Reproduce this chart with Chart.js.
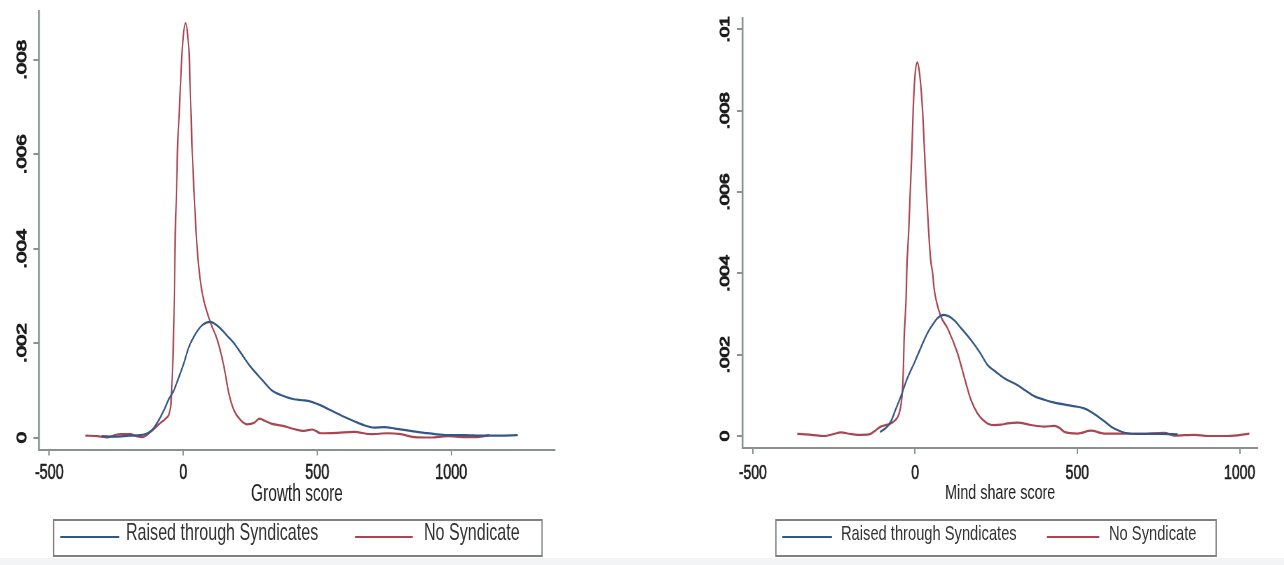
<!DOCTYPE html>
<html>
<head>
<meta charset="utf-8">
<script src="https://cdn.jsdelivr.net/npm/chart.js@4.4.0/dist/chart.umd.min.js"></script>
<style>
  body { margin: 0; background: #fff; width: 1284px; height: 565px; overflow: hidden; position: relative; font-family: 'Liberation Sans', Arial, sans-serif; }
  .panel { position: absolute; top: 0; height: 565px; transform-origin: 0 0; }
  .plot { position: absolute; left: 0; top: 0; height: 515px; }
  .legend-box { position: absolute; box-sizing: border-box; border: 2px solid #7f8080; }
  .key { position: absolute; height: 0; border-top: 2px solid; }
  .lab { position: absolute; line-height: 1; white-space: nowrap; color: #333; }
  #band { position: absolute; left: 0; right: 0; top: 558px; bottom: 0; background: #f3f4f5; }
</style>
</head>
<body>
<div id="band"></div>
<div class="panel" id="leftPanel"><div class="plot"><canvas id="growthChart"></canvas></div></div>
<div class="panel" id="rightPanel"><div class="plot"><canvas id="mindChart"></canvas></div></div>
<script>
// series names and tick values
const seriesNames = ['Raised through Syndicates', 'No Syndicate'];
const growthTicksX = [-500, 0, 500, 1000];
const growthTicksY = [0, 0.002, 0.004, 0.006, 0.008];
const mindTicksX = [-500, 0, 500, 1000];
const mindTicksY = [0, 0.002, 0.004, 0.006, 0.008, 0.01];

// Growth score - raised through syndicates
const growthSyndX = [-305, -250, -200, -160, -130, -110, -90, -72, -55, -35, -15, 2, 20, 40, 71, 102, 120, 139, 165, 189, 220, 251, 301, 330, 364, 413, 445, 476, 525, 560, 600, 640, 675, 712, 750, 790, 824, 860, 899, 940, 986, 1050, 1111, 1180, 1248];
const growthSyndY = [0.00003, 0.00002, 0.00004, 0.00005, 0.0001, 0.0002, 0.00038, 0.00058, 0.0008, 0.001, 0.0013, 0.00157, 0.0019, 0.00214, 0.00238, 0.00245, 0.0024, 0.00231, 0.00215, 0.002, 0.00175, 0.0015, 0.00118, 0.001, 0.0009, 0.00081, 0.00079, 0.00076, 0.00065, 0.00055, 0.00044, 0.00034, 0.00026, 0.00021, 0.00022, 0.00019, 0.00016, 0.00013, 0.0001, 0.00007, 0.00005, 0.00005, 0.00004, 0.00004, 0.00005];

// Growth score - no syndicate
const growthNoneX = [-365, -320, -284, -255, -234, -197, -175, -153, -122, -85, -66, -47, -45, -38, -33, -31, -26, -22, -14, -6, 0, 9, 17, 23, 28, 34, 42, 52, 62, 73, 102, 127, 152, 170, 189, 214, 239, 264, 285, 295, 326, 376, 413, 451, 482, 513, 575, 638, 700, 762, 812, 862, 924, 987, 1049, 1099, 1142];
const growthNoneY = [0.00004, 0.00003, 0.0, 0.00005, 0.00007, 0.00007, 0.00003, 0.00001, 0.00012, 0.00031, 0.0004, 0.00065, 0.0008, 0.0018, 0.003, 0.004, 0.005, 0.006, 0.007, 0.008, 0.0085, 0.00878, 0.0085, 0.008, 0.007, 0.006, 0.005, 0.004, 0.0034, 0.003, 0.00243, 0.00207, 0.0015, 0.00094, 0.00058, 0.00037, 0.00028, 0.00031, 0.0004, 0.00038, 0.0003, 0.00024, 0.00018, 0.00014, 0.00017, 0.00009, 0.0001, 0.00012, 0.00007, 0.00009, 0.00007, 0.00001, 0.0, 0.00003, 0.00001, 0.00001, 0.00005];

// Mind share score - raised through syndicates
const mindSyndX = [-108, -90, -75, -60, -44, -25, -3, 18, 38, 55, 69, 89, 105, 120, 145, 172, 200, 223, 250, 275, 316, 340, 367, 395, 419, 470, 500, 521, 545, 563, 585, 604, 625, 645, 696, 758, 809];
const mindSyndY = [0.0001, 0.0002, 0.00035, 0.00065, 0.00097, 0.0014, 0.00179, 0.00218, 0.00253, 0.00275, 0.0029, 0.00298, 0.00294, 0.00285, 0.00262, 0.00236, 0.00205, 0.00175, 0.00157, 0.00142, 0.00125, 0.00112, 0.00098, 0.0009, 0.00084, 0.00076, 0.00072, 0.00068, 0.00058, 0.00048, 0.00035, 0.00023, 0.00014, 0.00008, 0.00005, 0.00005, 0.00004];

// Mind share score - no syndicate
const mindNoneX = [-363, -320, -281, -250, -229, -200, -178, -142, -120, -106, -85, -70, -55, -49, -43, -39, -36, -34, -30, -27, -26, -20, -15, -10, -6, -1, 7, 14, 23, 29, 35, 42, 48, 54, 59, 79, 100, 131, 151, 172, 192, 223, 244, 265, 285, 316, 357, 398, 429, 445, 460, 501, 542, 583, 645, 696, 768, 799, 861, 902, 964, 1030];
const mindNoneY = [0.00005, 0.00003, 0.0, 0.00005, 0.00009, 0.00005, 0.00003, 0.00004, 0.00015, 0.00023, 0.00028, 0.00033, 0.00045, 0.00056, 0.0008, 0.00113, 0.0017, 0.00236, 0.003, 0.00359, 0.004, 0.005, 0.006, 0.007, 0.008, 0.0088, 0.00919, 0.0089, 0.008, 0.007, 0.006, 0.005, 0.00433, 0.004, 0.0036, 0.00295, 0.00265, 0.00203, 0.00146, 0.00089, 0.00056, 0.00031, 0.00027, 0.00028, 0.00031, 0.00033, 0.00027, 0.00023, 0.00025, 0.0002, 0.0001, 0.00006, 0.00013, 0.00006, 0.00006, 0.00005, 0.00008, 0.00001, 0.00003, 0.0, 0.0, 0.00006];

const BLUE = '#335888';
const RED = '#a94652';
const AXIS = '#8a9191';
const TEXT = '#1c1c1c';

function pts(xs, ys) {
    return xs.map((x, i) => ({ x: x, y: ys[i] }));
}

function stataLabel(v) {
    if (v === 0) return '0';
    return String(+v.toFixed(4)).replace(/^0\./, '.').replace(/^-0\./, '-.');
}

// the reference picture is squeezed sideways, so each panel is drawn wider and scaled back
function makePanel(panelId, canvasId, g) {
    const S = g.squeeze;
    const panel = document.getElementById(panelId);
    const innerW = g.width / S;
    panel.style.left = g.left + 'px';
    panel.style.width = innerW + 'px';
    panel.style.transform = 'scaleX(' + S + ')';
    panel.querySelector('.plot').style.width = innerW + 'px';
    const vx = x => (x - g.left) / S;

    new Chart(document.getElementById(canvasId), {
        type: 'line',
        data: {
            datasets: [{
                label: seriesNames[0],
                data: pts(g.syndX, g.syndY),
                borderColor: BLUE,
                borderWidth: 2.2,
                pointRadius: 0,
                cubicInterpolationMode: 'monotone',
                fill: false
            }, {
                label: seriesNames[1],
                data: pts(g.noneX, g.noneY),
                borderColor: RED,
                borderWidth: 2.2,
                pointRadius: 0,
                cubicInterpolationMode: 'monotone',
                fill: false
            }]
        },
        options: {
            animation: false,
            responsive: true,
            maintainAspectRatio: false,
            layout: { padding: { top: g.axisTop, right: (g.left + g.width - g.axisRight) / S, left: 0, bottom: 0 } },
            plugins: { legend: { display: false }, tooltip: { enabled: false } },
            scales: {
                x: {
                    type: 'linear',
                    min: g.xMin,
                    max: g.xMax,
                    afterBuildTicks: s => { s.ticks = g.ticksX.map(v => ({ value: v })); },
                    afterFit: s => { s.height = 515 - g.axisY; },
                    grid: { display: true, drawOnChartArea: false, drawTicks: true, tickLength: 6, color: AXIS, lineWidth: 2 },
                    border: { display: true, color: AXIS, width: 2 },
                    ticks: {
                        color: TEXT, autoSkip: false, minRotation: 0, maxRotation: 0,
                        padding: g.xTickPad,
                        textStrokeColor: TEXT, textStrokeWidth: 0.6,
                        font: { family: 'Liberation Sans', size: g.xTickSize },
                        callback: v => String(v)
                    },
                    title: {
                        display: true, text: g.title, color: TEXT,
                        font: { family: 'Liberation Sans', size: g.titleSize },
                        padding: { top: 0, bottom: g.titlePad }
                    }
                },
                y: {
                    min: g.yMin,
                    max: g.yMax,
                    afterBuildTicks: s => { s.ticks = g.ticksY.map(v => ({ value: v })); },
                    afterFit: s => { s.width = (g.axisLeft - g.left) / S; },
                    grid: { display: true, drawOnChartArea: false, drawTicks: true, tickLength: 6 / S, color: AXIS, lineWidth: 2 },
                    border: { display: true, color: AXIS, width: 2.5 },
                    ticks: {
                        color: TEXT, minRotation: 90, maxRotation: 90, crossAlign: 'center',
                        padding: g.yTickPad,
                        textStrokeColor: TEXT, textStrokeWidth: 1.4,
                        font: { family: 'Liberation Sans', size: g.yTickSize },
                        callback: v => stataLabel(v)
                    }
                }
            }
        }
    });

    // legend, drawn as html text
    const box = document.createElement('div');
    box.className = 'legend-box';
    box.style.left = vx(g.legend.left) + 'px';
    box.style.width = (g.legend.right - g.legend.left) / S + 'px';
    box.style.top = '519px';
    box.style.height = '38px';
    panel.appendChild(box);
    [BLUE, RED].forEach((c, i) => {
        const k = document.createElement('div');
        k.className = 'key';
        k.style.borderColor = c;
        k.style.left = vx(g.legend.keys[i][0]) + 'px';
        k.style.width = (g.legend.keys[i][1] - g.legend.keys[i][0]) / S + 'px';
        k.style.top = '536px';
        panel.appendChild(k);
        const t = document.createElement('div');
        t.className = 'lab';
        t.textContent = seriesNames[i];
        t.style.left = vx(g.legend.texts[i]) + 'px';
        t.style.fontSize = g.legend.size + 'px';
        t.style.top = (540 - 0.8465 * g.legend.size) + 'px';
        panel.appendChild(t);
    });
}

makePanel('leftPanel', 'growthChart', {
    left: 0, width: 600, squeeze: 0.67,
    axisLeft: 39.3, axisRight: 554, axisTop: 11, axisY: 449.5,
    xMin: -537, xMax: 1386, yMin: -0.000254, yMax: 0.009036,
    ticksX: growthTicksX, ticksY: growthTicksY,
    syndX: growthSyndX, syndY: growthSyndY, noneX: growthNoneX, noneY: growthNoneY,
    title: 'Growth score', titleSize: 23, titlePad: 6.2,
    xTickSize: 21.5, xTickPad: 5.1, yTickSize: 20.5, yTickPad: -3.5,
    legend: { left: 53, right: 543, keys: [[60, 119], [355, 413]], texts: [126, 424], size: 24 }
});

makePanel('rightPanel', 'mindChart', {
    left: 680, width: 604, squeeze: 0.7,
    axisLeft: 742.7, axisRight: 1257, axisTop: 18, axisY: 448,
    xMin: -531, xMax: 1055.5, yMin: -0.000295, yMax: 0.01028,
    ticksX: mindTicksX, ticksY: mindTicksY,
    syndX: mindSyndX, syndY: mindSyndY, noneX: mindNoneX, noneY: mindNoneY,
    title: 'Mind share score', titleSize: 20.5, titlePad: 9.7,
    xTickSize: 20, xTickPad: 7.7, yTickSize: 19, yTickPad: -1.8,
    legend: { left: 775, right: 1217, keys: [[782, 832], [1047, 1099]], texts: [841, 1109], size: 21 }
});
</script>
</body>
</html>
